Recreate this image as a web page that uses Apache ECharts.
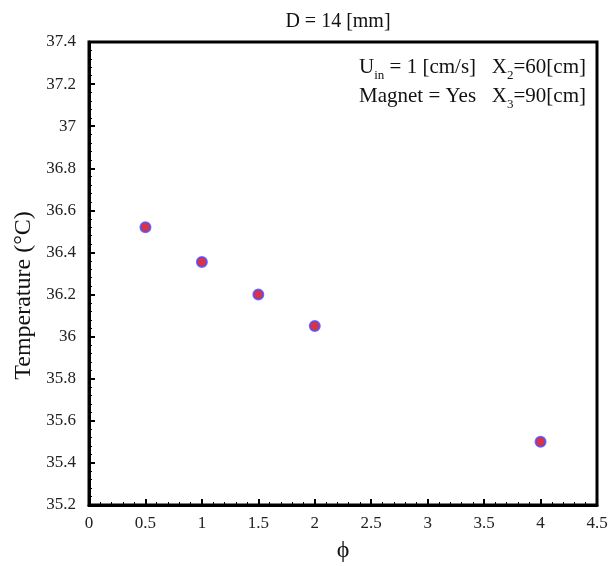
<!DOCTYPE html>
<html>
<head>
<meta charset="utf-8">
<script src="https://cdn.jsdelivr.net/npm/echarts@6/dist/echarts.min.js"></script>
<style>
  html, body { margin: 0; padding: 0; background: #fff; }
</style>
</head>
<body>
<div id="chart" style="width: 608px; height: 566px;"></div>
<script>
// data
const phi = [0.5, 1, 1.5, 2, 4];
const temperature = [36.52, 36.355, 36.2, 36.05, 35.5];

const serif = "Liberation Serif";
const chart = echarts.init(document.getElementById("chart"));

const axisCommon = {
  axisLine: { show: true, lineStyle: { color: "#000", width: 3 } },
  axisTick: { show: true, inside: true, length: 6, lineStyle: { color: "#000", width: 2 } },
  minorTick: { show: true, splitNumber: 5, length: 3, lineStyle: { color: "#000", width: 1 } },
  splitLine: { show: false },
  axisLabel: { color: "#222", fontFamily: serif, fontSize: 17 }
};

chart.setOption({
  animation: false,
  title: {
    text: "D = 14 [mm]",
    left: 333, top: 7, textAlign: "center",
    textStyle: { fontFamily: serif, fontSize: 20, fontWeight: "normal", color: "#111" }
  },
  grid: {
    left: 89, right: 11, top: 42, bottom: 61,
    containLabel: false, outerBoundsMode: "none",
    show: true, borderColor: "#000", borderWidth: 3
  },
  xAxis: Object.assign({}, axisCommon, {
    type: "value", min: 0, max: 4.5, interval: 0.5,
    name: "ϕ", nameLocation: "middle", nameGap: 34,
    nameTextStyle: { fontFamily: serif, fontSize: 24, color: "#111" },
    axisLabel: Object.assign({}, axisCommon.axisLabel, { margin: 10 })
  }),
  yAxis: Object.assign({}, axisCommon, {
    type: "value", min: 35.2, max: 37.4, interval: 0.2,
    name: "Temperature (°C)", nameLocation: "middle", nameGap: 47,
    nameTextStyle: { fontFamily: serif, fontSize: 24, color: "#111", padding: [0, 44, 0, 0] },
    axisLabel: Object.assign({}, axisCommon.axisLabel, { margin: 13 })
  }),
  graphic: [
    {
      type: "text", right: 22, top: 53,
      style: {
        text: "U{sub|in} = 1 [cm/s]   X{sub|2}=60[cm]\nMagnet = Yes   X{sub|3}=90[cm]",
        fontFamily: serif, fontSize: 21, fill: "#111", lineHeight: 29, align: "left",
        rich: {
          sub: { fontFamily: serif, fontSize: 13, fill: "#111", verticalAlign: "bottom", lineHeight: 17 }
        }
      }
    }
  ],
  series: [
    {
      type: "scatter",
      data: phi.map((x, i) => [x, temperature[i]]),
      symbol: "circle",
      symbolSize: 10,
      itemStyle: { color: "#d0001a", borderColor: "#4a4aff", borderWidth: 2 }
    }
  ]
});
</script>
</body>
</html>
